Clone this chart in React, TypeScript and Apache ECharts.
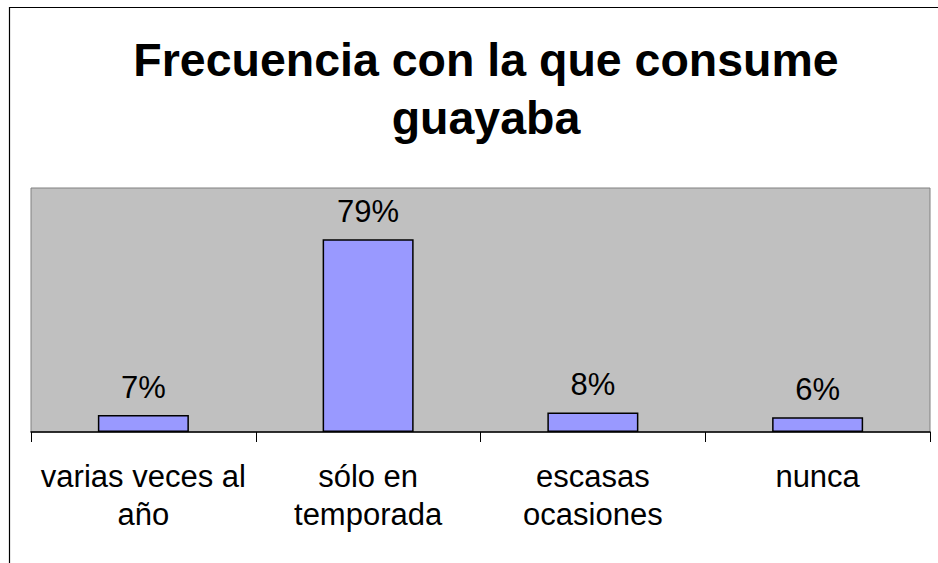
import React, { useEffect, useRef } from "react";
import * as echarts from "echarts";

const titleLines = ["Frecuencia con la que consume", "guayaba"];
const categories = ["varias veces al\naño", "sólo en\ntemporada", "escasas\nocasiones", "nunca"];
const values = [7, 79, 8, 6];

export default function App() {
  const ref = useRef<HTMLDivElement>(null);
  useEffect(() => {
    if (!ref.current) return;
    const chart = echarts.init(ref.current, null, { renderer: "svg" });
    chart.setOption({
      animation: false,
      backgroundColor: "#ffffff",
      textStyle: { fontFamily: "Liberation Sans, Arial, sans-serif" },
      graphic: [
        {
          type: "rect",
          shape: { x: 9.5, y: 7.5, width: 1000, height: 1000 },
          style: { fill: "none", stroke: "#000", lineWidth: 1.2 },
          silent: true,
        },
        {
          type: "text",
          x: 486,
          y: 31,
          style: {
            text: titleLines.join("\n"),
            fontSize: 46.5,
            fontWeight: "bold",
            fontFamily: "Liberation Sans, Arial, sans-serif",
            fill: "#000",
            textAlign: "center",
            textVerticalAlign: "top",
            lineHeight: 58,
          },
        },
      ],
      grid: {
        left: 31,
        right: 8,
        top: 188,
        bottom: 131,
        show: true,
        backgroundColor: "#c0c0c0",
        borderColor: "#808080",
        borderWidth: 1,
      },
      xAxis: {
        type: "category",
        data: categories,
        axisLine: { lineStyle: { color: "#000", width: 1.5 } },
        axisTick: { show: true, length: 10, interval: 0, lineStyle: { color: "#000" } },
        axisLabel: {
          interval: 0,
          color: "#000",
          fontSize: 31,
          lineHeight: 38,
          margin: 25,
          fontFamily: "Liberation Sans, Arial, sans-serif",
        },
      },
      yAxis: {
        type: "value",
        min: 0,
        max: 100,
        show: false,
        splitLine: { show: false },
      },
      series: [
        {
          type: "bar",
          data: values,
          barWidth: "40.5%",
          itemStyle: { color: "#9999ff", borderColor: "#000", borderWidth: 1.5 },
          label: {
            show: true,
            position: "top",
            distance: 12,
            formatter: "{c}%",
            color: "#000",
            fontSize: 31,
            fontFamily: "Liberation Sans, Arial, sans-serif",
          },
        },
      ],
    });
    return () => chart.dispose();
  }, []);
  return <div ref={ref} style={{ width: 938, height: 563, position: "absolute", left: 0, top: 0 }} />;
}
